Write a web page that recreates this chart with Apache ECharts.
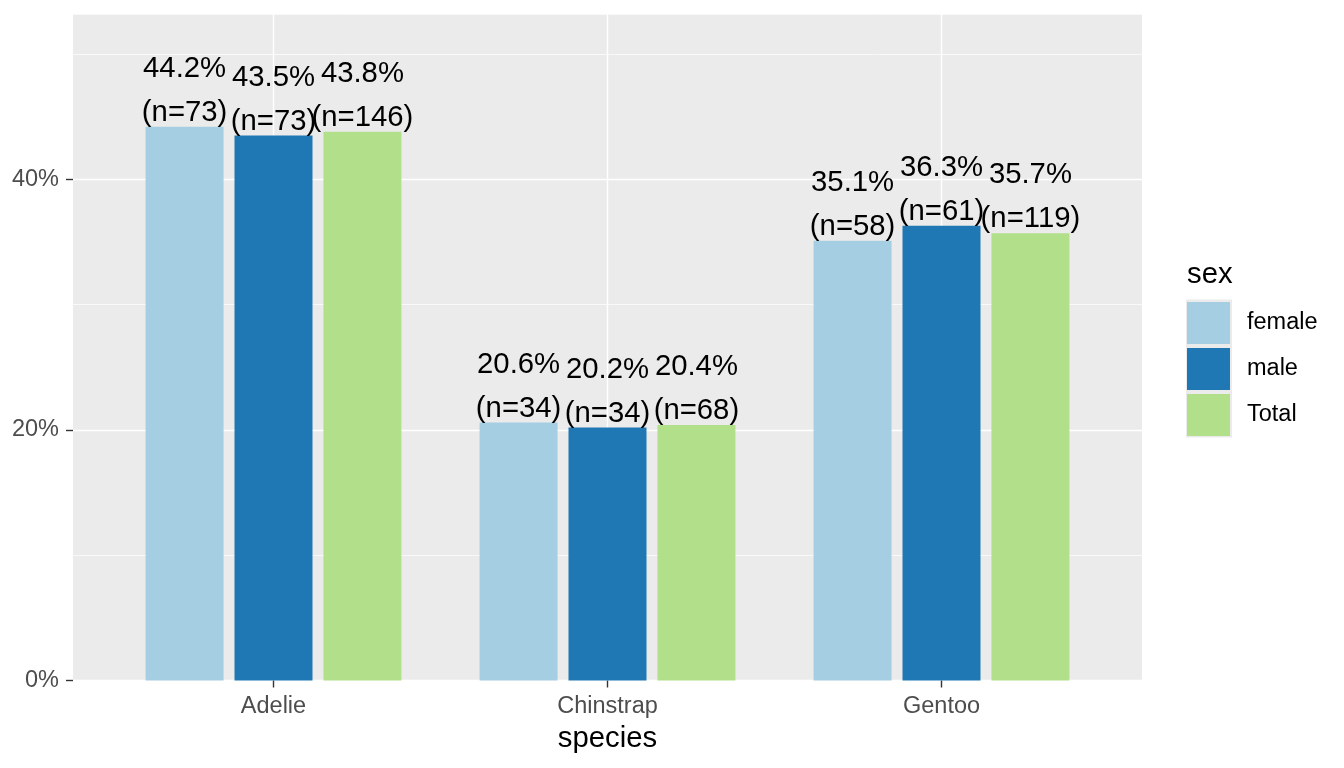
<!DOCTYPE html>
<html>
<head>
<meta charset="utf-8">
<script src="https://cdn.jsdelivr.net/npm/echarts@6/dist/echarts.min.js"></script>
<style>
  html, body { margin: 0; padding: 0; background: #fff; }
  #chart { width: 1344px; height: 768px; }
</style>
</head>
<body>
<div id="chart"></div>
<script>
const species = ['Adelie', 'Chinstrap', 'Gentoo'];
const sexGroups = ['female', 'male', 'Total'];
const femalePct = [44.2, 20.6, 35.1];
const malePct = [43.5, 20.2, 36.3];
const totalPct = [43.8, 20.4, 35.7];
const femaleN = [73, 34, 58];
const maleN = [73, 34, 61];
const totalN = [146, 68, 119];
const yTicks = [0, 20, 40];
const yMax = 53.2;

const colors = ['#A6CEE3', '#1F78B4', '#B2DF8A'];
const FONT = '"Liberation Sans", Arial, sans-serif';

const chart = echarts.init(document.getElementById('chart'));

function barSeries(name, pct, n, color) {
  return {
    name: name,
    type: 'bar',
    xAxisIndex: 0,
    yAxisIndex: 0,
    barWidth: 78,
    barGap: '14%',
    z: 2,
    itemStyle: { color: color },
    data: pct,
    label: {
      show: true,
      position: 'top',
      distance: -8,
      color: '#000',
      fontSize: 29.3,
      lineHeight: 44,
      fontFamily: FONT,
      formatter: p => p.value.toFixed(1) + '%\n(n=' + n[p.dataIndex] + ')'
    }
  };
}

const option = {
  backgroundColor: '#ffffff',
  animation: false,
  textStyle: { fontFamily: FONT },
  title: {
    text: 'sex',
    left: 1187,
    top: 260,
    padding: 0,
    textStyle: { fontSize: 29.3, fontWeight: 'normal', color: '#000', fontFamily: FONT }
  },
  legend: {
    orient: 'vertical',
    left: 1187,
    top: 302,
    padding: 0,
    itemWidth: 43,
    itemHeight: 42,
    itemGap: 4,
    icon: 'rect',
    data: sexGroups,
    selectedMode: false,
    textStyle: { fontSize: 23.5, color: '#000', fontFamily: FONT, padding: [0, 0, 0, 12] }
  },
  graphic: [{
    type: 'rect',
    z: 0,
    shape: { x: 1186, y: 299.5, width: 46, height: 138 },
    style: { fill: '#EBEBEB' }
  }],
  grid: [
    { left: 106.5, right: 235.5, top: 14, bottom: 87.5 },
    { left: 73, right: 202, top: 14, bottom: 87.5, show: true, backgroundColor: '#EBEBEB', borderWidth: 0 },
    { left: 273.5, right: 402.5, top: 14, bottom: 87.5 }
  ],
  xAxis: [
    {
      type: 'category',
      gridIndex: 0,
      data: species,
      boundaryGap: true,
      axisLine: { show: false },
      axisTick: { show: true, alignWithLabel: true, length: 7, lineStyle: { color: '#333333', width: 1.4 } },
      axisLabel: { color: '#4D4D4D', fontSize: 23.5, margin: 14, fontFamily: FONT },
      splitLine: { show: false },
      name: 'species',
      nameLocation: 'middle',
      nameGap: 44,
      nameTextStyle: { color: '#000', fontSize: 29.3, fontFamily: FONT }
    },
    {
      type: 'value',
      gridIndex: 1,
      min: 0,
      max: 1,
      show: false
    },
    {
      type: 'category',
      gridIndex: 2,
      data: species,
      boundaryGap: false,
      axisLine: { show: false },
      axisTick: { show: false },
      axisLabel: { show: false },
      splitLine: { show: true, lineStyle: { color: '#FFFFFF', width: 1.4 } }
    }
  ],
  yAxis: [
    {
      type: 'value',
      gridIndex: 0,
      position: 'left',
      min: 0,
      max: yMax,
      show: false,
      splitLine: { show: false }
    },
    {
      type: 'value',
      gridIndex: 1,
      position: 'left',
      min: 0,
      max: yMax,
      interval: 10,
      axisLine: { show: false },
      axisTick: { show: false },
      axisLabel: { show: false },
      splitLine: { show: true, lineStyle: { color: '#FFFFFF', width: 0.7 } }
    },
    {
      type: 'value',
      gridIndex: 1,
      position: 'left',
      offset: 0,
      min: 0,
      max: yMax,
      interval: 20,
      axisLine: { show: false },
      axisTick: { show: true, length: 7, customValues: yTicks, lineStyle: { color: '#333333', width: 1.4 } },
      axisLabel: {
        show: true,
        customValues: yTicks,
        color: '#4D4D4D',
        fontSize: 23.5,
        margin: 14,
        fontFamily: FONT,
        formatter: v => v + '%'
      },
      splitLine: { show: true, lineStyle: { color: '#FFFFFF', width: 1.4 } }
    },
    {
      type: 'value',
      gridIndex: 2,
      min: 0,
      max: 1,
      show: false
    }
  ],
  series: [
    barSeries(sexGroups[0], femalePct, femaleN, colors[0]),
    barSeries(sexGroups[1], malePct, maleN, colors[1]),
    barSeries(sexGroups[2], totalPct, totalN, colors[2])
  ]
};

chart.setOption(option);
</script>
</body>
</html>
